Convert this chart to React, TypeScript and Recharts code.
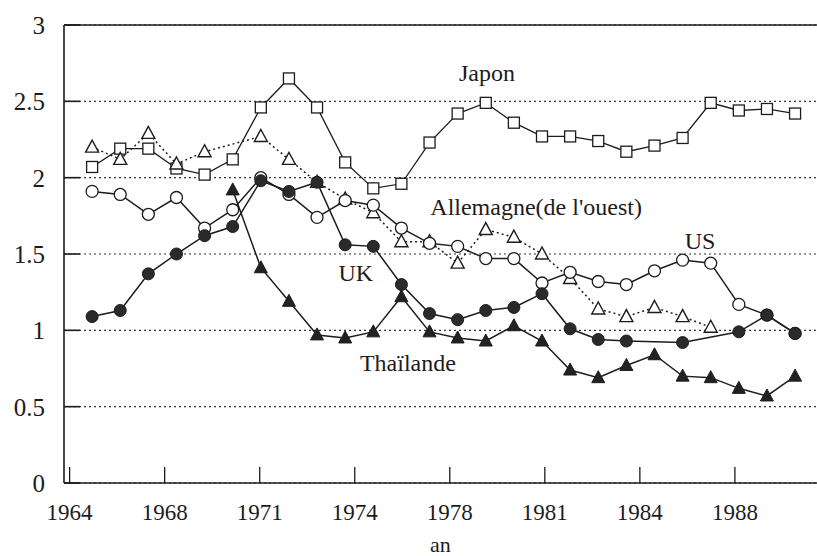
import {
  LineChart, Line, XAxis, YAxis, CartesianGrid, ReferenceLine, ReferenceDot,
} from 'recharts'

// années (une valeur par an)
const years = [
  1965, 1966, 1967, 1968, 1969, 1970, 1971, 1972, 1973, 1974, 1975, 1976, 1977,
  1978, 1979, 1980, 1981, 1982, 1983, 1984, 1985, 1986, 1987, 1988, 1989, 1990,
]

const japon = [
  2.07, 2.19, 2.19, 2.06, 2.02, 2.12, 2.46, 2.65, 2.46, 2.10, 1.93, 1.96, 2.23,
  2.42, 2.49, 2.36, 2.27, 2.27, 2.24, 2.17, 2.21, 2.26, 2.49, 2.44, 2.45, 2.42,
]
const allemagne = [
  2.20, 2.12, 2.29, 2.09, 2.17, null, 2.27, 2.12, 1.97, 1.86, 1.77, 1.58, 1.58,
  1.44, 1.66, 1.61, 1.50, 1.34, 1.14, 1.09, 1.15, 1.09, 1.02, null, null, null,
]
const us = [
  1.91, 1.89, 1.76, 1.87, 1.67, 1.79, 2.00, 1.89, 1.74, 1.85, 1.82, 1.67, 1.57,
  1.55, 1.47, 1.47, 1.31, 1.38, 1.32, 1.30, 1.39, 1.46, 1.44, 1.17, 1.10, 0.98,
]
const uk = [
  1.09, 1.13, 1.37, 1.50, 1.62, 1.68, 1.98, 1.91, 1.97, 1.56, 1.55, 1.30, 1.11,
  1.07, 1.13, 1.15, 1.24, 1.01, 0.94, 0.93, null, 0.92, null, 0.99, 1.10, 0.98,
]
const thailande = [
  null, null, null, null, null, 1.92, 1.41, 1.19, 0.97, 0.95, 0.99, 1.22, 0.99,
  0.95, 0.93, 1.03, 0.93, 0.74, 0.69, 0.77, 0.84, 0.70, 0.69, 0.62, 0.57, 0.70,
]

// graduations de l'axe des x (positions décalées comme sur l'original)
const xTicks = [1964.2, 1967.58, 1970.96, 1974.34, 1977.72, 1981.1, 1984.48, 1987.86]
const xTickLabels = ['1964', '1968', '1971', '1974', '1978', '1981', '1984', '1988']
const yTicks = [0, 0.5, 1, 1.5, 2, 2.5, 3]

// étiquettes des séries : [texte, an, valeur]
const annotations: [string, number, number][] = [
  ['Japon', 1979.04, 2.69],
  ["Allemagne(de l'ouest)", 1980.79, 1.81],
  ['US', 1986.62, 1.59],
  ['UK', 1974.38, 1.38],
  ['Thaïlande', 1976.23, 0.79],
]

const data = years.map((year, i) => ({
  year,
  japon: japon[i],
  allemagne: allemagne[i],
  us: us[i],
  uk: uk[i],
  thailande: thailande[i],
}))

const INK = '#1c1c1c'
const FONT = "'Liberation Serif', serif"

type Shape = 'square' | 'circle' | 'disc' | 'triangle' | 'filledTriangle'

const makeDot = (shape: Shape) => (props: any) => {
  const { cx, cy, index, value } = props
  if (cx == null || cy == null || value == null) return <g key={`n-${index}`} />
  const k = `${shape}-${index}`
  switch (shape) {
    case 'square':
      return <rect key={k} x={cx - 5.5} y={cy - 5.5} width={11} height={11} fill="#fff" stroke={INK} strokeWidth={1.3} />
    case 'circle':
      return <circle key={k} cx={cx} cy={cy} r={6} fill="#fff" stroke={INK} strokeWidth={1.3} />
    case 'disc':
      return <circle key={k} cx={cx} cy={cy} r={6} fill="#2a2a2a" stroke={INK} strokeWidth={1} />
    case 'triangle':
      return (
        <polygon key={k} fill="#fff" stroke={INK} strokeWidth={1.4}
          points={`${cx},${cy - 7} ${cx - 6.5},${cy + 5} ${cx + 6.5},${cy + 5}`} />
      )
    default:
      return (
        <polygon key={k} fill="#222" stroke={INK} strokeWidth={1}
          points={`${cx},${cy - 7} ${cx - 6.5},${cy + 5} ${cx + 6.5},${cy + 5}`} />
      )
  }
}

export default function App() {
  return (
    <div style={{ position: 'absolute', left: 0, top: 0, width: 817, height: 556, background: '#fff', fontFamily: FONT }}>
      <LineChart width={817} height={556} data={data} margin={{ top: 25, right: 0, bottom: 0, left: 0 }}>
        <CartesianGrid vertical={false} strokeDasharray="2 3" stroke="#333" strokeWidth={1.2} />
        <XAxis
          dataKey="year" type="number" domain={[1964, 1990.78]} ticks={xTicks} interval={0}
          tickFormatter={(_v: number, i: number) => xTickLabels[i]}
          height={73} tickSize={-16} tickMargin={37}
          tick={{ fontSize: 23, fill: INK, fontFamily: FONT }}
          axisLine={{ stroke: INK, strokeWidth: 1.6 }} tickLine={{ stroke: INK, strokeWidth: 1.3 }}
          label={{ value: 'an', position: 'insideBottom', offset: 4, fontSize: 22, fill: INK, fontFamily: FONT }}
        />
        <YAxis
          type="number" domain={[0, 3]} ticks={yTicks} interval={0} width={64}
          tickSize={-16} tickMargin={35}
          tick={{ fontSize: 25, fill: INK, fontFamily: FONT }}
          axisLine={{ stroke: INK, strokeWidth: 1.6 }} tickLine={{ stroke: INK, strokeWidth: 1.6 }}
        />
        <ReferenceLine y={3} stroke={INK} strokeWidth={1.3} />
        <Line dataKey="japon" stroke={INK} strokeWidth={1.3} dot={makeDot('square')} isAnimationActive={false} />
        <Line dataKey="allemagne" stroke={INK} strokeWidth={1.5} strokeDasharray="2 3" connectNulls
          dot={makeDot('triangle')} isAnimationActive={false} />
        <Line dataKey="us" stroke={INK} strokeWidth={1.5} dot={makeDot('circle')} isAnimationActive={false} />
        <Line dataKey="uk" stroke={INK} strokeWidth={1.5} connectNulls dot={makeDot('disc')} isAnimationActive={false} />
        <Line dataKey="thailande" stroke={INK} strokeWidth={1.5} dot={makeDot('filledTriangle')} isAnimationActive={false} />
        {annotations.map(([text, x, y]) => (
          <ReferenceDot key={text} x={x} y={y} r={0} stroke="none" fill="none"
            label={{ value: text, position: 'center', fontSize: 24, fill: INK, fontFamily: FONT }} />
        ))}
      </LineChart>
    </div>
  )
}
